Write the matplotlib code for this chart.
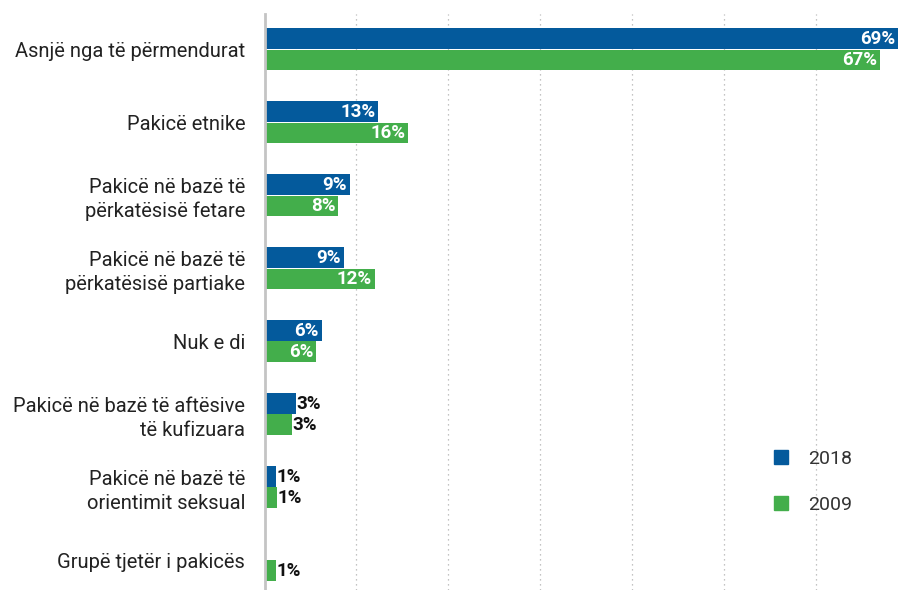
import numpy as np
import matplotlib
matplotlib.use("Agg")
import matplotlib.pyplot as plt
from matplotlib.lines import Line2D

categories = [
    "Asnjë nga të përmendurat",
    "Pakicë etnike",
    "Pakicë në bazë të\npërkatësisë fetare",
    "Pakicë në bazë të\npërkatësisë partiake",
    "Nuk e di",
    "Pakicë në bazë të aftësive\ntë kufizuara",
    "Pakicë në bazë të\norientimit seksual",
    "Grupë tjetër i pakicës",
]
vals_2018 = [69.0, 12.4, 9.3, 8.6, 6.2, 3.4, 1.2, None]
vals_2009 = [67.0, 15.6, 8.0, 12.0, 5.6, 3.0, 1.4, 1.2]
labels_2018 = ["69%", "13%", "9%", "9%", "6%", "3%", "1%", ""]
labels_2009 = ["67%", "16%", "8%", "12%", "6%", "3%", "1%", "1%"]

blue = "#045a9c"
green = "#43ae4b"

plt.rcParams["font.family"] = ["Roboto", "DejaVu Sans"]

fig = plt.figure(figsize=(9, 5.9), dpi=100)
ax = fig.add_axes([0.294, 0.0, 0.706, 0.976])

y = np.arange(len(categories))
h = 0.28


def draw(vals, labs, offset, color):
    for i, (v, lab) in enumerate(zip(vals, labs)):
        if v is None:
            continue
        ax.barh(y[i] + offset, v, height=h, color=color, edgecolor="none", zorder=2)
        if v >= 5:
            ax.text(v - 0.3, y[i] + offset, lab, ha="right", va="center",
                    color="white", fontsize=13.5, fontweight="bold", zorder=3)
        else:
            ax.text(v + 0.05, y[i] + offset, lab, ha="left", va="center",
                    color="#111111", fontsize=13.5, fontweight="bold", zorder=3)


draw(vals_2018, labels_2018, -h / 2 - 0.005, blue)
draw(vals_2009, labels_2009, h / 2 + 0.005, green)

ax.set_xlim(0, 69.2)
ax.set_ylim(7.41, -0.48)
ax.set_yticks(y)
ax.set_yticklabels(categories, fontsize=14.5, color="#222222", linespacing=1.3)
ax.tick_params(axis="y", length=0, pad=14)
ax.set_xticks(np.arange(10, 70, 10))
ax.tick_params(axis="x", length=0, labelbottom=False)
ax.xaxis.grid(True, linestyle=(0, (1, 3)), color="#b0b0b0", linewidth=0.9, zorder=0)

for s in ["top", "right", "bottom"]:
    ax.spines[s].set_visible(False)
ax.spines["left"].set_color("#c4c4c4")
ax.spines["left"].set_linewidth(2)

handles = [
    Line2D([], [], marker="s", linestyle="none", markersize=10.5, color=blue, label="2018"),
    Line2D([], [], marker="s", linestyle="none", markersize=10.5, color=green, label="2009"),
]
leg = ax.legend(handles=handles, loc="center left", bbox_to_anchor=(0.77, 0.188),
                frameon=False, fontsize=14, labelspacing=1.45, handletextpad=0.9,
                handlelength=1.0)
for t in leg.get_texts():
    t.set_color("#333333")

fig.savefig("out.png", dpi=100)
